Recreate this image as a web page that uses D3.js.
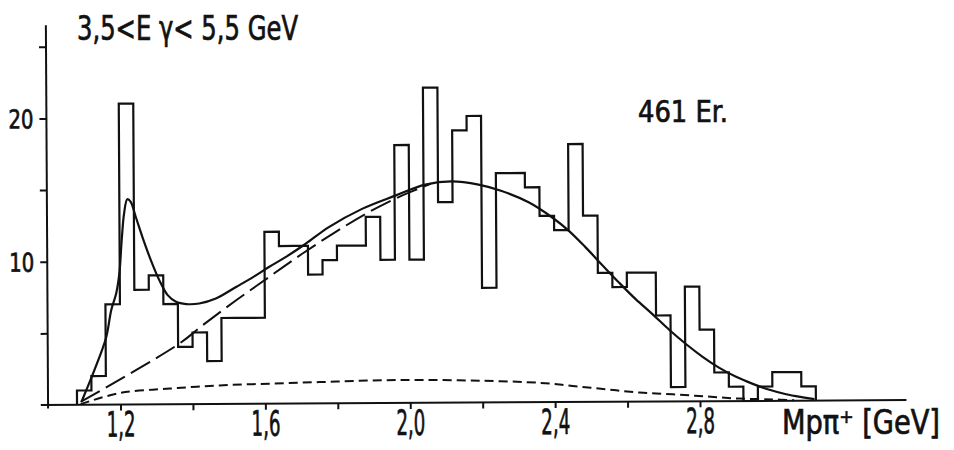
<!DOCTYPE html>
<html><head><meta charset="utf-8">
<script src="https://cdn.jsdelivr.net/npm/d3@7"></script>
<style>
html,body{margin:0;padding:0;background:#fff;}
svg{display:block;}
text{font-family:"Liberation Sans Narrow","DejaVu Sans Condensed","Liberation Sans",sans-serif;fill:#111;stroke:#111;stroke-width:0.7px;}
</style></head><body>
<svg id="chart" width="954" height="450"></svg>
<script>
// ---- data ----
const binStart = 1.08;   // GeV, lower edge of first bin
const binWidth = 0.04;   // GeV
const counts = [1,2,7,21,8,9,7,4,5,3,6,6,6,
                12,11,11,9,10,11,11,
                13,10,18,10,22,14,19,20,
                8,16,16,15,13,12,18,13,
                9,8,9,9,6,1,8,5,2,1,0,1,2,2,1];

// solid fit curve (Delta + background)
const fitMass  = [1.093,1.121,1.143,1.162,1.176,1.190,1.199,1.206,1.213,1.222,1.231,1.245,1.263,1.286,1.309,1.332,1.355,1.383,1.419,1.465,1.521,1.566,1.612,1.658,1.714,1.778,1.870,1.962,2.045,2.118,2.192,2.256,2.330,2.394,2.440,2.486,2.532,2.578,2.624,2.670,2.716,2.762,2.808,2.854,2.900,2.946,2.992,3.038,3.084,3.116];
const fitValue = [0.25,1.95,3.35,4.74,6.6,7.77,9.17,11.5,13.35,14.33,14.16,13.1,11.7,10.07,8.67,7.62,7.15,6.99,7.02,7.36,8.16,8.81,9.54,10.22,11.15,12.3,13.56,14.47,15.23,15.44,15.2,14.75,13.95,12.9,11.96,10.8,9.55,8.32,7.15,6.1,5.0,4.0,3.1,2.32,1.69,1.19,0.77,0.45,0.23,0.1];

// long-dashed curve (background without resonance)
const bgMass  = [1.090,1.364,1.428,1.521,1.612,1.704,1.796,1.888,1.980,2.026,2.060];
const bgValue = [0.2,4.24,5.5,7.23,8.84,10.45,11.95,13.32,14.47,14.94,15.28];

// short-dashed curve
const psMass  = [1.090,1.199,1.337,1.474,1.612,1.750,1.888,2.026,2.192,2.357,2.449,2.541,2.633,2.725,2.817,2.909,3.000,3.060];
const psValue = [0.05,0.81,1.1,1.3,1.4,1.49,1.58,1.6,1.52,1.35,1.12,0.87,0.63,0.5,0.33,0.17,0.1,0.03];

const xTickValues = [1.2,1.4,1.6,1.8,2.0,2.2,2.4,2.6,2.8];
const xTickLabels = ["1,2","","1,6","","2,0","","2,4","","2,8"];
const yTickValues = [5,10,15,20,25];
const yTickLabels = ["","10","","20",""];
const xAxisExtent = [0.98, 3.37];
const yAxisExtent = [-0.25, 26.5];
const yAxisAt = 1.0;
const titleText = "3,5<E γ< 5,5 GeV";
const countText = "461 Er.";
const xAxisTitle = "Mpπ⁺ [GeV]";

// ---- drawing ----
const svg = d3.select("#chart");
const x = d3.scaleLinear().domain([1.2, 2.8]).range([120.5, 700]);
const y = d3.scaleLinear().domain([0, 25]).range([405, 46.75]);
const ink = "#111";

const g = svg.append("g").attr("transform", `rotate(-0.33, ${x(yAxisAt)}, ${y(0)})`);

// axis lines
g.append("line").attr("x1", x(xAxisExtent[0])).attr("x2", x(xAxisExtent[1]))
  .attr("y1", y(0)).attr("y2", y(0)).attr("stroke", ink).attr("stroke-width", 2);
g.append("line").attr("x1", x(yAxisAt)).attr("x2", x(yAxisAt))
  .attr("y1", y(yAxisExtent[0])).attr("y2", y(yAxisExtent[1])).attr("stroke", ink).attr("stroke-width", 2);

const xAxis = d3.axisBottom(x).tickValues(xTickValues).tickSize(6).tickPadding(5)
  .tickFormat((d, i) => xTickLabels[i]);
const gx = g.append("g").attr("transform", `translate(0,${y(0)})`).call(xAxis);
gx.select(".domain").remove();
gx.selectAll(".tick line").attr("stroke", ink).attr("stroke-width", 2);
gx.selectAll(".tick text").attr("font-size", 35).attr("fill", ink)
  .attr("dy", "0").attr("y", 32)
  .each(function(){ if (this.textContent) d3.select(this).attr("textLength", 29).attr("lengthAdjust","spacingAndGlyphs"); });

const yAxis = d3.axisLeft(y).tickValues(yTickValues).tickSize(7).tickPadding(5)
  .tickFormat((d, i) => yTickLabels[i]);
const gy = g.append("g").attr("transform", `translate(${x(yAxisAt)},0)`).call(yAxis);
gy.select(".domain").remove();
gy.selectAll(".tick line").attr("stroke", ink).attr("stroke-width", 2);
gy.selectAll(".tick text").attr("font-size", 26).attr("fill", ink).attr("x", -13)
  .attr("dy", "0.36em")
  .each(function(){ if (this.textContent) d3.select(this).attr("textLength", 25).attr("lengthAdjust","spacingAndGlyphs"); });

// histogram outline
const pts = [[binStart, 0]]
  .concat(counts.map((c, i) => [binStart + i * binWidth, c]))
  .concat([[binStart + counts.length * binWidth, 0]]);
const stepLine = d3.line().x(d => x(d[0])).y(d => y(d[1])).curve(d3.curveStepAfter);
g.append("path").attr("d", stepLine(pts)).attr("fill", "none")
  .attr("stroke", ink).attr("stroke-width", 2.2).attr("stroke-linejoin", "miter");

// curves
const smooth = d3.line().x(d => x(d[0])).y(d => y(d[1])).curve(d3.curveCatmullRom.alpha(0.5));
g.append("path").attr("d", smooth(psMass.map((m, i) => [m, psValue[i]])))
  .attr("fill", "none").attr("stroke", ink).attr("stroke-width", 2).attr("stroke-dasharray", "9,5");
g.append("path").attr("d", smooth(bgMass.map((m, i) => [m, bgValue[i]])))
  .attr("fill", "none").attr("stroke", ink).attr("stroke-width", 2).attr("stroke-dasharray", "22,7");
g.append("path").attr("d", smooth(fitMass.map((m, i) => [m, fitValue[i]])))
  .attr("fill", "none").attr("stroke", ink).attr("stroke-width", 2.2);

// texts
svg.append("text").attr("x", 77).attr("y", 40).attr("font-size", 34)
  .attr("textLength", 221).attr("lengthAdjust", "spacingAndGlyphs").text(titleText);
svg.append("text").attr("x", 638).attr("y", 122).attr("font-size", 30)
  .attr("textLength", 90).attr("lengthAdjust", "spacingAndGlyphs").text(countText);
svg.append("text").attr("x", 782).attr("y", 434).attr("font-size", 33)
  .attr("textLength", 158).attr("lengthAdjust", "spacingAndGlyphs").text(xAxisTitle);
</script>
</body></html>
